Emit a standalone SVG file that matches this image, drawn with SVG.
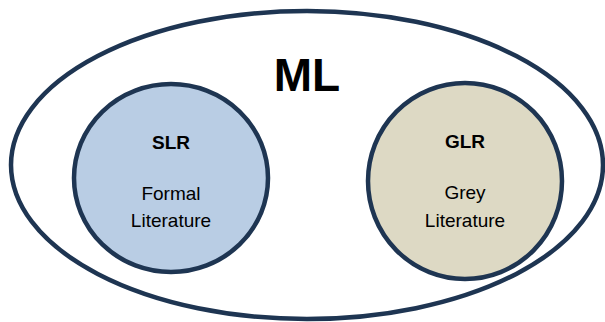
<svg xmlns="http://www.w3.org/2000/svg" width="605" height="322" viewBox="0 0 605 322">
<style>
.ring{stroke:#1e3552;stroke-width:4.5}
.t{font-family:"Liberation Sans",Arial,sans-serif;text-anchor:middle;fill:#000}
.b{font-weight:bold}
.s{font-size:19px}
</style>
<rect width="605" height="322" fill="#fff"/>
<g id="ML">
<ellipse class="ring" cx="307" cy="165" rx="296" ry="154" fill="#fff"/>
<text class="t b" x="307" y="91" font-size="46">ML</text>
</g>
<g id="SLR">
<ellipse class="ring" cx="171" cy="178" rx="97" ry="94" fill="#b9cde4"/>
<text class="t b s" x="171" y="149">SLR</text>
<text class="t s" x="171" y="200">Formal</text>
<text class="t s" x="171" y="227">Literature</text>
</g>
<g id="GLR">
<ellipse class="ring" cx="465" cy="181" rx="97" ry="98" fill="#ddd9c4"/>
<text class="t b s" x="465" y="148">GLR</text>
<text class="t s" x="465" y="199">Grey</text>
<text class="t s" x="465" y="227">Literature</text>
</g>
<g id="connectors"/>
</svg>
